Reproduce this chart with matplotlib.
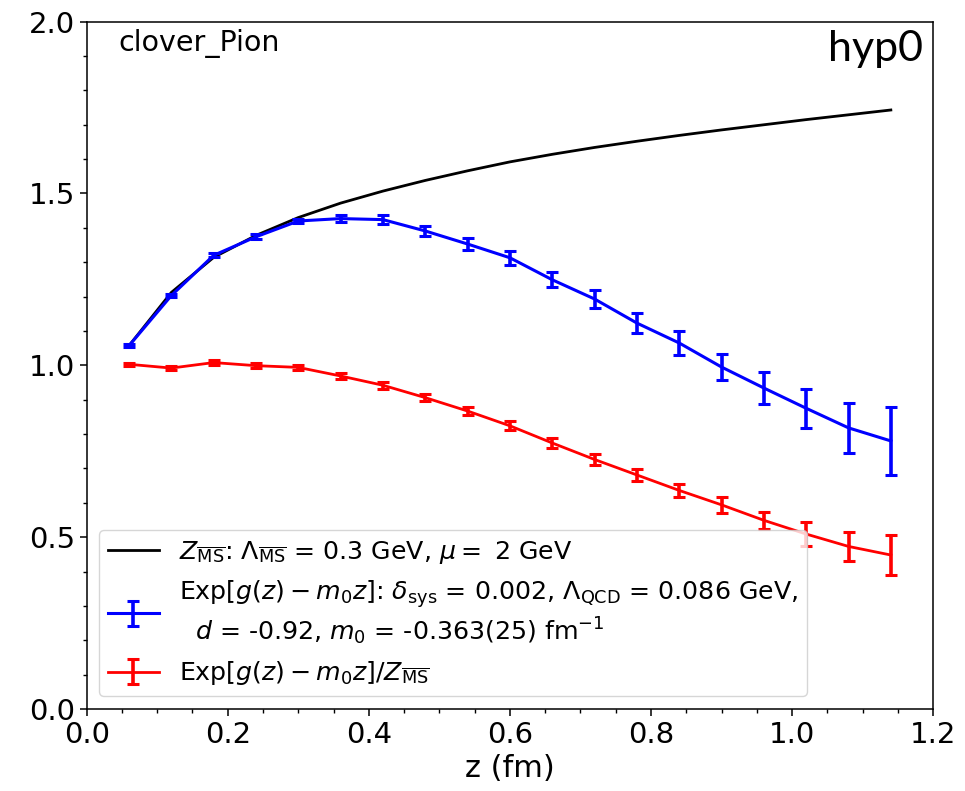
import numpy as np
import matplotlib
matplotlib.use("Agg")
import matplotlib.pyplot as plt
from matplotlib.ticker import MultipleLocator

z = [0.06, 0.12, 0.18, 0.24, 0.30, 0.36, 0.42, 0.48, 0.54, 0.60,
     0.66, 0.72, 0.78, 0.84, 0.90, 0.96, 1.02, 1.08, 1.14]

z_ms = [1.057, 1.212, 1.314, 1.378, 1.430, 1.472, 1.507, 1.538, 1.566, 1.592,
        1.614, 1.634, 1.652, 1.669, 1.685, 1.700, 1.715, 1.729, 1.743]

blue_val = [1.057, 1.203, 1.320, 1.374, 1.420, 1.427, 1.424, 1.391, 1.353, 1.313,
            1.249, 1.193, 1.123, 1.065, 0.995, 0.934, 0.875, 0.818, 0.780]
blue_err = [0.004, 0.005, 0.006, 0.007, 0.007, 0.009, 0.012, 0.014, 0.017, 0.020,
            0.022, 0.025, 0.030, 0.034, 0.038, 0.047, 0.057, 0.073, 0.100]

red_val = [1.003, 0.992, 1.008, 0.999, 0.994, 0.969, 0.942, 0.906, 0.867, 0.824,
           0.774, 0.726, 0.681, 0.636, 0.594, 0.549, 0.509, 0.473, 0.448]
red_err = [0.004, 0.005, 0.007, 0.007, 0.008, 0.009, 0.010, 0.011, 0.012, 0.013,
           0.015, 0.016, 0.017, 0.019, 0.023, 0.025, 0.035, 0.042, 0.057]

label_black = r"$Z_{\overline{\rm MS}}$: $\Lambda_{\overline{\rm MS}}$ = 0.3 GeV, $\mu = $ 2 GeV"
label_blue = (r"Exp[$g(z)-m_0z$]: $\delta_{\rm sys}$ = 0.002, $\Lambda_{\rm QCD}$ = 0.086 GeV," "\n"
              r"  $d$ = -0.92, $m_0$ = -0.363(25) fm$^{-1}$")
label_red = r"Exp[$g(z)-m_0z$]/$Z_{\overline{\rm MS}}$"

fig = plt.figure(figsize=(9.65, 7.91), dpi=100)
ax = fig.add_axes([0.0898, 0.1037, 0.8772, 0.8689])

ax.plot(z, z_ms, color="black", lw=2.0, label=label_black)
ax.errorbar(z, blue_val, yerr=blue_err, color="blue", lw=2.2, elinewidth=2.6,
            capsize=4.0, capthick=2.2, label=label_blue)
ax.errorbar(z, red_val, yerr=red_err, color="red", lw=2.0, elinewidth=2.6,
            capsize=4.0, capthick=2.2, label=label_red)

ax.set_xlim(0.0, 1.2)
ax.set_ylim(0.0, 2.0)
ax.xaxis.set_major_locator(MultipleLocator(0.2))
ax.xaxis.set_minor_locator(MultipleLocator(0.05))
ax.yaxis.set_major_locator(MultipleLocator(0.5))
ax.yaxis.set_minor_locator(MultipleLocator(0.1))
ax.tick_params(axis="both", which="major", labelsize=21, length=5, width=1.1)
ax.tick_params(axis="both", which="minor", length=3, width=1.0)
for s in ax.spines.values():
    s.set_linewidth(1.1)

ax.set_xlabel("z (fm)", fontsize=22, labelpad=4)

ax.text(0.037, 0.989, "clover_Pion", transform=ax.transAxes, fontsize=20.5,
        ha="left", va="top")
ax.text(0.988, 0.988, "hyp0", transform=ax.transAxes, fontsize=31,
        ha="right", va="top", family=["Lato", "DejaVu Sans"])

ax.legend(loc="lower left", fontsize=18.2, handlelength=2.0,
          borderaxespad=0.5, labelspacing=0.5, borderpad=0.35)

fig.savefig("out.png", dpi=100)
